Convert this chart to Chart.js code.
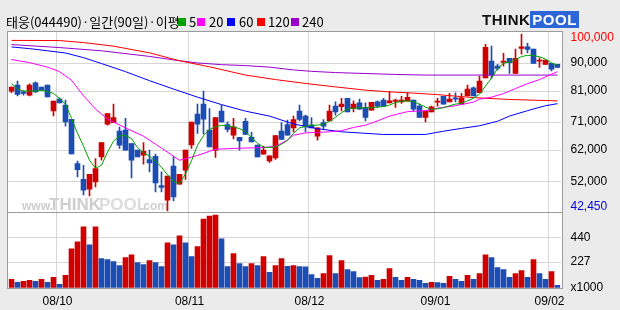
<!DOCTYPE html>
<html>
<head>
<meta charset="utf-8">
<script src="https://cdn.jsdelivr.net/npm/chart.js@4.4.1/dist/chart.umd.min.js"></script>
<style>
  html, body { margin: 0; padding: 0; }
  body { width: 620px; height: 310px; background: #ebebeb; position: relative; overflow: hidden; }
  #chart { position: absolute; left: 0; top: 0; }
  .hd { position: absolute; top: 13px; font: 13px/17px 'Noto Sans CJK KR', sans-serif; color: #000; white-space: nowrap; }
  .sw { position: absolute; top: 18px; width: 8px; height: 8px; }
  #logo { position: absolute; left: 482px; top: 12px; font: bold 15px/16px 'Liberation Sans', Arial, sans-serif; color: #111; letter-spacing: 0.5px; }
  #logo span { background: #2d66d6; color: #fff; padding: 0 2px; }
</style>
</head>
<body>
<canvas id="chart" width="620" height="310"></canvas>
<div class="hd" style="left:6px">태웅(044490)·일간(90일)·이평</div>
<div class="sw" style="left:178px;background:#00a000"></div><div class="hd" style="left:189px">5</div>
<div class="sw" style="left:197px;background:#ff00ff"></div><div class="hd" style="left:209px">20</div>
<div class="sw" style="left:227px;background:#0000ff"></div><div class="hd" style="left:239px">60</div>
<div class="sw" style="left:257px;background:#ff0000"></div><div class="hd" style="left:268px">120</div>
<div class="sw" style="left:291px;background:#9900cc"></div><div class="hd" style="left:302px">240</div>
<div id="logo">THINK<span>POOL</span></div>
<script>
// month starts (index of first trading day) -> label
const monthTicks = { 8: '08/10', 30: '08/11', 50: '08/12', 71: '09/01', 90: '09/02' };

const opens = [81000, 82900, 80750, 79700, 83650, 82250, 82900, 74650, 78400, 76500,
  71950, 57700, 52650, 49450, 51800, 59850, 70350, 70800, 68100, 68450,
  64150, 62000, 60400, 59000, 60050, 50600, 45900, 56850, 51050, 55550,
  63700, 73600, 76800, 68450, 62000, 74550, 70250, 66800, 66150, 71300,
  66150, 63600, 60700, 58550, 59500, 68100, 70250, 69150, 74550, 72950,
  70050, 66500, 70900, 71400, 76150, 75950, 78650, 75400, 77200, 75750,
  74850, 77550, 78100, 77200, 77650, 77550, 77750, 78100, 76150, 72500,
  74300, 77450, 79350, 77550, 78850, 76800, 79450, 82050, 80450, 85250,
  90650, 89050, 90250, 91500, 86700, 94750, 95250, 94500, 90650, 89600,
  89900, 89600];
const highs = [82250, 84200, 81100, 83350, 84000, 82250, 82900, 77750, 78850, 78100,
  71950, 58450, 57150, 54250, 59300, 64450, 73800, 76800, 69400, 72200,
  64150, 62000, 64450, 62000, 60700, 55000, 53700, 59850, 54250, 62000,
  71000, 76800, 81000, 75400, 72500, 76500, 71100, 72200, 66150, 72200,
  67700, 63600, 63250, 60150, 66700, 70900, 71650, 72950, 76500, 73250,
  72500, 69150, 71850, 76500, 77550, 78650, 78650, 77850, 78400, 77200,
  77350, 77850, 78650, 80750, 78400, 79350, 80450, 78100, 76800, 74550,
  76150, 78650, 79350, 80250, 80450, 80250, 82900, 82350, 85800, 96000,
  95450, 89600, 93100, 91500, 94500, 99350, 96350, 94500, 91700, 90950,
  89900, 89600];
const lows = [80450, 79450, 79700, 79450, 80550, 81300, 79150, 73050, 77200, 69700,
  60800, 53400, 47600, 47250, 50150, 58750, 70050, 70800, 62550, 62000,
  53050, 59850, 57500, 55000, 48550, 48550, 42450, 45650, 51050, 52550,
  62550, 67350, 67150, 63050, 59650, 71100, 67900, 65600, 62000, 67050,
  64650, 59850, 60700, 58050, 59000, 65450, 66800, 67900, 71400, 67900,
  69150, 65200, 68650, 71400, 73250, 74650, 74300, 74300, 75200, 71400,
  74850, 75750, 76150, 77200, 75750, 77000, 77750, 74650, 72500, 71100,
  74300, 76150, 76800, 77550, 77550, 76800, 79450, 79450, 80450, 85250,
  85050, 87750, 89050, 86700, 86700, 92900, 93300, 89900, 88600, 89600,
  87500, 88600];
const closes = [82250, 79900, 80250, 82900, 80750, 81300, 79150, 77750, 77200, 71100,
  60800, 55750, 49100, 54250, 56100, 64450, 73800, 72500, 63600, 62000,
  58750, 59850, 61650, 57900, 51450, 50000, 53700, 46950, 54250, 62000,
  71000, 70350, 71950, 63050, 72500, 71100, 68650, 69500, 65000, 67050,
  64650, 59850, 62000, 60150, 66700, 65450, 66800, 71850, 71850, 69500,
  69150, 69150, 69700, 74550, 74300, 76800, 74300, 76800, 75200, 72500,
  77350, 76150, 76150, 77850, 78100, 78100, 78950, 75200, 72500, 74550,
  75950, 77750, 76800, 78400, 78400, 78850, 81650, 79450, 84200, 95050,
  86150, 88300, 90650, 90100, 91500, 95250, 94400, 89900, 90950, 90950,
  88050, 88600];
// volume, thousands of shares
const volumes = [75, 49, 58, 67, 58, 75, 49, 93, 32, 110,
  343, 404, 534, 378, 534, 257, 248, 231, 196, 266,
  291, 222, 205, 240, 222, 188, 395, 378, 456, 395,
  274, 361, 603, 629, 637, 430, 188, 300, 214, 188,
  214, 196, 274, 136, 196, 257, 190, 196, 188, 186,
  118, 84, 127, 283, 127, 240, 162, 144, 90, 95,
  110, 67, 75, 170, 93, 67, 93, 75, 67, 41,
  49, 48, 41, 101, 75, 58, 110, 75, 127, 291,
  266, 179, 162, 93, 127, 153, 93, 248, 127, 75,
  144, 23];

// moving averages: [day index, price]
const ma5 = [[0, 83400], [1, 81650], [2, 81000], [4, 81000], [5, 81300], [7, 80250], [8, 78650], [9, 76800],
  [10, 72200], [11, 67450], [12, 63300], [13, 58750], [14, 56200], [15, 57150], [16, 61350], [17, 64900],
  [18, 66600], [19, 66700], [20, 65750], [21, 62800], [22, 61200], [23, 60050], [24, 58450], [25, 56500],
  [26, 54100], [27, 51850], [28, 51250], [29, 54400], [30, 58600], [31, 63600], [32, 66650], [33, 68600],
  [34, 69600], [35, 69950], [36, 69850], [37, 69450], [38, 68950], [39, 67950], [40, 66000], [41, 64250],
  [42, 62950], [43, 62850], [44, 63100], [45, 63900], [46, 65200], [47, 67450], [48, 69150], [49, 69700],
  [50, 70050], [51, 70050], [52, 70350], [53, 71350], [54, 72600], [55, 74050], [56, 75200], [57, 75500],
  [58, 75600], [59, 75600], [60, 75600], [61, 75850], [62, 76000], [63, 76500], [64, 77300], [65, 77750],
  [66, 77850], [67, 77600], [68, 76800], [69, 75850], [70, 75100], [71, 75300], [72, 75650], [73, 76300],
  [74, 76800], [75, 77100], [76, 77850], [77, 78750], [78, 80000], [79, 82600], [80, 85150], [81, 88250],
  [82, 90000], [83, 90300], [84, 91150], [85, 92100], [86, 92500], [87, 92400], [88, 92050], [89, 91300],
  [90, 90050], [91, 89350]];
const ma20 = [[0, 91150], [3, 90150], [6, 88700], [8, 87250], [10, 84500], [12, 79500], [14, 75200],
  [16, 72050], [19, 69150], [22, 66500], [25, 62650], [28, 58750], [29, 59250], [31, 60300], [34, 62300],
  [37, 62550], [42, 62850], [44, 63250], [46, 65200], [47, 66800], [49, 67550], [53, 67900], [55, 68250],
  [57, 69300], [59, 70050], [61, 71400], [63, 72950], [66, 74400], [69, 74700], [71, 75500], [74, 76300],
  [77, 77450], [78, 78400], [80, 79050], [82, 80200], [84, 81800], [86, 83400], [88, 84700], [90, 86450],
  [91, 87250]];
const ma60 = [[0, 95200], [3, 94650], [6, 93950], [9, 93250], [12, 91750], [15, 89850], [19, 87250],
  [23, 84350], [27, 81650], [31, 79050], [35, 76650], [39, 74550], [43, 72950], [47, 70400], [51, 68900],
  [55, 67900], [62, 67050], [69, 67050], [72, 68100], [75, 69000], [78, 69850], [81, 71300], [83, 72950],
  [86, 74700], [89, 76300], [91, 76950]];
const ma120 = [[0, 97300], [8, 97250], [12, 96600], [17, 95450], [23, 93300], [28, 90750], [33, 88800],
  [39, 86150], [44, 84700], [49, 83450], [54, 82350], [59, 81300], [63, 80750], [67, 80350], [71, 79850],
  [77, 78900], [83, 78300], [91, 77850]];
const ma240 = [[0, 95950], [8, 95000], [15, 93950], [23, 92150], [28, 90750], [31, 90050], [35, 89500],
  [39, 89200], [43, 88700], [47, 87800], [50, 87350], [54, 86950], [59, 86650], [64, 86350], [69, 86150],
  [91, 86150]];

const priceTicks = [100000, 90000, 81000, 71000, 62000, 52000, 42450];
const volumeTicks = [440, 227, 0];

const RED = '#d00000';
const BLUE = '#1b4db5';
const GRID = '#d6d6d6';
const FRAME = '#9c9c9c';

const days = opens.map((_, i) => i);
const candleColors = opens.map((o, i) => closes[i] >= o ? RED : BLUE);
const volumeColors = volumes.map((v, i) => (i === 0 || v > volumes[i - 1]) ? RED : BLUE);

function maLine(points, color) {
    return {
        type: 'line',
        data: points.map(([x, y]) => ({ x, y })),
        borderColor: color,
        borderWidth: 1,
        pointRadius: 0,
        tension: 0,
        yAxisID: 'y',
        order: 0
    };
}

const panels = {
    id: 'panels',
    beforeDraw(chart) {
        const { ctx, chartArea: a } = chart;
        ctx.save();
        ctx.fillStyle = '#fff';
        ctx.fillRect(8, a.top, 554, a.bottom - a.top);
        ctx.restore();
    },
    beforeDatasetsDraw(chart) {
        // faint site watermark in the lower left of the price panel
        const { ctx } = chart;
        const base = chart.scales.y.bottom - 3;
        ctx.save();
        ctx.textBaseline = 'alphabetic';
        ctx.fillStyle = '#cdcdcd';
        ctx.font = 'bold 12px "Liberation Sans", Arial';
        ctx.fillText('www.', 22, base);
        ctx.font = 'bold 17px "Liberation Sans", Arial';
        ctx.fillText('THINK', 49, base);
        ctx.fillStyle = '#dcdcdc';
        ctx.fillText('POOL', 99, base);
        ctx.fillStyle = '#cdcdcd';
        ctx.font = 'bold 12px "Liberation Sans", Arial';
        ctx.fillText('.com', 140, base);
        ctx.restore();
    },
    afterDraw(chart) {
        const { ctx, chartArea: a } = chart;
        const sep = Math.floor(chart.scales.y.bottom) + 0.5;
        ctx.save();
        ctx.strokeStyle = FRAME;
        ctx.lineWidth = 1;
        ctx.strokeRect(7.5, Math.floor(a.top) - 0.5, 555, Math.round(a.bottom - a.top) + 1);
        ctx.beginPath();
        ctx.moveTo(7.5, sep);
        ctx.lineTo(562.5, sep);
        ctx.stroke();
        ctx.restore();
    }
};

new Chart(document.getElementById('chart'), {
    type: 'bar',
    data: {
        labels: days,
        datasets: [
            maLine(ma5, '#00a000'),
            maLine(ma20, '#ff00ff'),
            maLine(ma60, '#0000ff'),
            maLine(ma120, '#ff0000'),
            maLine(ma240, '#9900cc'),
            {
                data: lows.map((l, i) => [l, highs[i]]),
                backgroundColor: candleColors,
                barThickness: 1,
                grouped: false,
                yAxisID: 'y',
                order: 2
            },
            {
                data: opens.map((o, i) => [o, closes[i]]),
                backgroundColor: candleColors,
                barThickness: 5,
                minBarLength: 1,
                grouped: false,
                yAxisID: 'y',
                order: 1
            },
            {
                data: volumes,
                backgroundColor: volumeColors,
                barThickness: 5,
                grouped: false,
                yAxisID: 'yv',
                order: 1
            }
        ]
    },
    options: {
        responsive: false,
        animation: false,
        events: [],
        layout: { padding: { left: 8.5, top: 32, right: 0, bottom: 0 } },
        plugins: { legend: { display: false }, tooltip: { enabled: false } },
        scales: {
            x: {
                type: 'category',
                afterFit: s => { s.height = 22; },
                border: { display: false },
                grid: {
                    drawTicks: false,
                    color: c => monthTicks[c.index] ? GRID : 'rgba(0,0,0,0)'
                },
                ticks: {
                    autoSkip: false,
                    maxRotation: 0,
                    padding: 6,
                    labelOffset: -2,
                    color: '#000',
                    font: { family: 'Liberation Sans', size: 12 },
                    callback: (v, i) => monthTicks[i] || ''
                }
            },
            y: {
                type: 'linear',
                position: 'right',
                stack: 'panel',
                stackWeight: 180.5,
                min: 41950,
                max: 100000,
                afterFit: s => { s.width = 59.5; },
                afterBuildTicks: s => { s.ticks = priceTicks.map(v => ({ value: v })); },
                border: { display: false },
                grid: {
                    drawTicks: false,
                    color: c => (c.tick && (c.tick.value === 100000 || c.tick.value === 42450)) ? 'rgba(0,0,0,0)' : GRID
                },
                ticks: {
                    autoSkip: false,
                    padding: 10,
                    color: c => c.tick.value === 100000 ? '#ff0000' : (c.tick.value === 42450 ? '#0000dd' : '#000'),
                    font: c => ({ family: 'Liberation Sans', size: 12, lineHeight: c.tick && c.tick.value === 100000 ? '12px' : (c.tick && c.tick.value === 42450 ? '8px' : 1.2) }),
                    callback: v => v === 100000 ? ['', '100,000'] : (v === 42450 ? ['42,450', ''] : v.toLocaleString('en-US'))
                }
            },
            yv: {
                type: 'linear',
                position: 'right',
                stack: 'panel',
                stackWeight: 75.5,
                min: 0,
                max: 660,
                afterFit: s => { s.width = 59.5; },
                afterBuildTicks: s => { s.ticks = volumeTicks.map(v => ({ value: v })); },
                border: { display: false },
                grid: {
                    drawTicks: false,
                    color: c => (c.tick && c.tick.value === 0) ? 'rgba(0,0,0,0)' : GRID
                },
                ticks: {
                    autoSkip: false,
                    padding: 10,
                    color: '#000',
                    font: { family: 'Liberation Sans', size: 12 },
                    callback: v => v === 0 ? 'x1000' : String(v)
                }
            }
        }
    },
    plugins: [panels]
});
</script>
</body>
</html>
